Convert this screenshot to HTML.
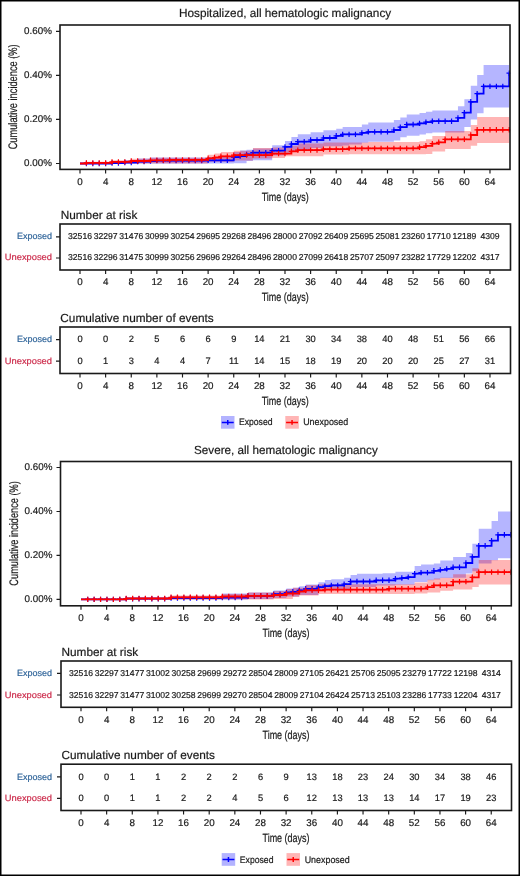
<!DOCTYPE html><html><head><meta charset="utf-8"><style>html,body{margin:0;padding:0;background:#fff;}svg{display:block;will-change:transform;}</style></head><body>
<svg width="520" height="876" viewBox="0 0 520 876" text-rendering="geometricPrecision" font-family='"Liberation Sans", sans-serif'>
<rect x="0" y="0" width="520" height="876" fill="#fff"/>
<rect x="0.75" y="0.75" width="518.5" height="874.5" fill="none" stroke="#000" stroke-width="1.5"/>
<text x="179.00" y="16.80" font-size="11.8" text-anchor="start" fill="#1a1a1a" stroke="#1a1a1a" stroke-width="0.2" textLength="212.2" lengthAdjust="spacingAndGlyphs" >Hospitalized, all hematologic malignancy</text>
<clipPath id="c1"><rect x="60" y="25" width="450.3" height="144.4"/></clipPath>
<g clip-path="url(#c1)">
<path d="M80.00,163.50 112.03,163.50 L112.03,161.00 124.84,161.00 L124.84,160.00 137.65,160.00 L137.65,158.60 150.47,158.60 L150.47,157.60 208.12,157.60 L208.12,157.00 233.74,157.00 L233.74,152.00 240.15,152.00 L240.15,150.50 246.56,150.50 L246.56,149.80 252.96,149.80 L252.96,148.60 272.18,148.60 L272.18,145.20 284.99,145.20 L284.99,141.10 291.40,141.10 L291.40,137.10 297.80,137.10 L297.80,134.20 310.62,134.20 L310.62,132.30 323.43,132.30 L323.43,130.30 336.24,130.30 L336.24,128.80 342.65,128.80 L342.65,126.90 361.86,126.90 L361.86,124.40 368.27,124.40 L368.27,122.60 393.89,122.60 L393.89,120.00 400.30,120.00 L400.30,117.40 406.71,117.40 L406.71,114.50 419.52,114.50 L419.52,113.00 425.92,113.00 L425.92,111.70 432.33,111.70 L432.33,110.40 457.95,110.40 L457.95,106.30 464.36,106.30 L464.36,99.30 470.77,99.30 L470.77,85.70 477.17,85.70 L477.17,75.10 483.58,75.10 L483.58,65.00 509.20,65.00 L509.20,107.60 483.58,107.60 L483.58,113.20 477.17,113.20 L477.17,119.40 470.77,119.40 L470.77,127.00 464.36,127.00 L464.36,132.60 432.33,132.60 L432.33,133.30 425.92,133.30 L425.92,134.60 419.52,134.60 L419.52,135.80 406.71,135.80 L406.71,137.30 400.30,137.30 L400.30,140.50 393.89,140.50 L393.89,141.80 368.27,141.80 L368.27,142.80 361.86,142.80 L361.86,144.50 349.05,144.50 L349.05,145.60 342.65,145.60 L342.65,146.20 323.43,146.20 L323.43,148.00 310.62,148.00 L310.62,150.30 297.80,150.30 L297.80,151.50 291.40,151.50 L291.40,152.70 284.99,152.70 L284.99,155.60 272.18,155.60 L272.18,160.30 252.96,160.30 L252.96,161.00 246.56,161.00 L246.56,163.20 233.74,163.20 L233.74,163.50 80.00,163.50 Z" fill="rgb(0,0,255)" fill-opacity="0.29" stroke="none"/>
<path d="M80.00,163.50 86.41,163.50 L86.41,161.80 112.03,161.80 L112.03,160.20 131.25,160.20 L131.25,158.80 150.47,158.80 L150.47,157.80 208.12,157.80 L208.12,154.80 214.53,154.80 L214.53,153.60 220.93,153.60 L220.93,151.90 233.74,151.90 L233.74,150.80 252.96,150.80 L252.96,148.00 272.18,148.00 L272.18,147.50 284.99,147.50 L284.99,145.80 297.80,145.80 L297.80,143.50 323.43,143.50 L323.43,142.40 368.27,142.40 L368.27,142.00 419.52,142.00 L419.52,141.30 425.92,141.30 L425.92,139.30 432.33,139.30 L432.33,136.00 445.14,136.00 L445.14,130.90 470.77,130.90 L470.77,125.00 477.17,125.00 L477.17,116.90 509.20,116.90 L509.20,143.00 477.17,143.00 L477.17,145.70 470.77,145.70 L470.77,149.00 445.14,149.00 L445.14,151.50 432.33,151.50 L432.33,154.00 425.92,154.00 L425.92,154.20 349.05,154.20 L349.05,154.60 323.43,154.60 L323.43,156.20 284.99,156.20 L284.99,157.90 272.18,157.90 L272.18,158.50 252.96,158.50 L252.96,160.60 233.74,160.60 L233.74,161.70 208.12,161.70 L208.12,163.50 80.00,163.50 Z" fill="rgb(255,0,0)" fill-opacity="0.29" stroke="none"/>
<path d="M80.00,163.50 L80.00,163.50 L112.03,163.50 L112.03,163.00 L124.84,163.00 L124.84,162.50 L137.65,162.50 L137.65,161.60 L150.47,161.60 L150.47,161.00 L156.87,161.00 L156.87,160.60 L208.12,160.60 L208.12,160.30 L233.74,160.30 L233.74,157.10 L240.15,157.10 L240.15,156.00 L246.56,156.00 L246.56,154.40 L252.96,154.40 L252.96,152.70 L272.18,152.70 L272.18,150.60 L284.99,150.60 L284.99,146.90 L291.40,146.90 L291.40,144.00 L297.80,144.00 L297.80,141.70 L310.62,141.70 L310.62,140.00 L323.43,140.00 L323.43,138.00 L336.24,138.00 L336.24,135.80 L342.65,135.80 L342.65,134.40 L361.86,134.40 L361.86,132.90 L368.27,132.90 L368.27,131.90 L393.89,131.90 L393.89,130.00 L400.30,130.00 L400.30,127.10 L406.71,127.10 L406.71,124.50 L419.52,124.50 L419.52,123.40 L425.92,123.40 L425.92,122.10 L432.33,122.10 L432.33,121.20 L457.95,121.20 L457.95,117.90 L464.36,117.90 L464.36,112.60 L470.77,112.60 L470.77,101.80 L477.17,101.80 L477.17,93.70 L483.58,93.70 L483.58,86.40 L509.20,86.40 L509.20,73.20 L509.20,73.20" stroke="#0000ff" stroke-width="1.8" fill="none" stroke-linejoin="miter"/>
<path d="M86.41,160.80V166.20M83.71,163.50H89.11M92.81,160.80V166.20M90.11,163.50H95.51M99.22,160.80V166.20M96.52,163.50H101.92M105.62,160.80V166.20M102.92,163.50H108.32M112.03,160.30V165.70M109.33,163.00H114.73M118.44,160.30V165.70M115.74,163.00H121.14M124.84,159.80V165.20M122.14,162.50H127.54M131.25,159.80V165.20M128.55,162.50H133.95M137.65,158.90V164.30M134.95,161.60H140.35M144.06,158.90V164.30M141.36,161.60H146.76M150.47,158.30V163.70M147.77,161.00H153.17M156.87,157.90V163.30M154.17,160.60H159.57M163.28,157.90V163.30M160.58,160.60H165.98M169.68,157.90V163.30M166.98,160.60H172.38M176.09,157.90V163.30M173.39,160.60H178.79M182.50,157.90V163.30M179.80,160.60H185.20M188.90,157.90V163.30M186.20,160.60H191.60M195.31,157.90V163.30M192.61,160.60H198.01M201.71,157.90V163.30M199.01,160.60H204.41M208.12,157.60V163.00M205.42,160.30H210.82M214.53,157.60V163.00M211.83,160.30H217.23M220.93,157.60V163.00M218.23,160.30H223.63M227.34,157.60V163.00M224.64,160.30H230.04M233.74,154.40V159.80M231.04,157.10H236.44M240.15,153.30V158.70M237.45,156.00H242.85M246.56,151.70V157.10M243.86,154.40H249.26M252.96,150.00V155.40M250.26,152.70H255.66M259.37,150.00V155.40M256.67,152.70H262.07M265.77,150.00V155.40M263.07,152.70H268.47M272.18,147.90V153.30M269.48,150.60H274.88M278.59,147.90V153.30M275.89,150.60H281.29M284.99,144.20V149.60M282.29,146.90H287.69M291.40,141.30V146.70M288.70,144.00H294.10M297.80,139.00V144.40M295.10,141.70H300.50M304.21,139.00V144.40M301.51,141.70H306.91M310.62,137.30V142.70M307.92,140.00H313.32M317.02,137.30V142.70M314.32,140.00H319.72M323.43,135.30V140.70M320.73,138.00H326.13M329.83,135.30V140.70M327.13,138.00H332.53M336.24,133.10V138.50M333.54,135.80H338.94M342.65,131.70V137.10M339.95,134.40H345.35M349.05,131.70V137.10M346.35,134.40H351.75M355.46,131.70V137.10M352.76,134.40H358.16M361.86,130.20V135.60M359.16,132.90H364.56M368.27,129.20V134.60M365.57,131.90H370.97M374.68,129.20V134.60M371.98,131.90H377.38M381.08,129.20V134.60M378.38,131.90H383.78M387.49,129.20V134.60M384.79,131.90H390.19M393.89,127.30V132.70M391.19,130.00H396.59M400.30,124.40V129.80M397.60,127.10H403.00M406.71,121.80V127.20M404.01,124.50H409.41M413.11,121.80V127.20M410.41,124.50H415.81M419.52,120.70V126.10M416.82,123.40H422.22M425.92,119.40V124.80M423.22,122.10H428.62M432.33,118.50V123.90M429.63,121.20H435.03M438.74,118.50V123.90M436.04,121.20H441.44M445.14,118.50V123.90M442.44,121.20H447.84M451.55,118.50V123.90M448.85,121.20H454.25M457.95,115.20V120.60M455.25,117.90H460.65M464.36,109.90V115.30M461.66,112.60H467.06M470.77,99.10V104.50M468.07,101.80H473.47M477.17,91.00V96.40M474.47,93.70H479.87M483.58,83.70V89.10M480.88,86.40H486.28M489.98,83.70V89.10M487.28,86.40H492.68M496.39,83.70V89.10M493.69,86.40H499.09M502.80,83.70V89.10M500.10,86.40H505.50M509.20,70.50V75.90M506.50,73.20H511.90" stroke="#0000ff" stroke-width="1.2" fill="none"/>
<path d="M80.00,163.50 L80.00,163.50 L86.41,163.50 L86.41,162.90 L112.03,162.90 L112.03,161.90 L131.25,161.90 L131.25,161.00 L150.47,161.00 L150.47,160.30 L169.68,160.30 L169.68,159.90 L208.12,159.90 L208.12,158.30 L214.53,158.30 L214.53,157.50 L220.93,157.50 L220.93,156.30 L233.74,156.30 L233.74,155.10 L272.18,155.10 L272.18,153.60 L291.40,153.60 L291.40,151.30 L297.80,151.30 L297.80,150.10 L323.43,150.10 L323.43,149.20 L349.05,149.20 L349.05,148.40 L419.52,148.40 L419.52,147.20 L425.92,147.20 L425.92,145.80 L432.33,145.80 L432.33,143.70 L438.74,143.70 L438.74,142.30 L445.14,142.30 L445.14,139.30 L470.77,139.30 L470.77,135.00 L477.17,135.00 L477.17,129.80 L509.20,129.80" stroke="#ff0000" stroke-width="1.8" fill="none" stroke-linejoin="miter"/>
<path d="M86.41,160.20V165.60M83.71,162.90H89.11M92.81,160.20V165.60M90.11,162.90H95.51M99.22,160.20V165.60M96.52,162.90H101.92M105.62,160.20V165.60M102.92,162.90H108.32M112.03,159.20V164.60M109.33,161.90H114.73M118.44,159.20V164.60M115.74,161.90H121.14M124.84,159.20V164.60M122.14,161.90H127.54M131.25,158.30V163.70M128.55,161.00H133.95M137.65,158.30V163.70M134.95,161.00H140.35M144.06,158.30V163.70M141.36,161.00H146.76M150.47,157.60V163.00M147.77,160.30H153.17M156.87,157.60V163.00M154.17,160.30H159.57M163.28,157.60V163.00M160.58,160.30H165.98M169.68,157.20V162.60M166.98,159.90H172.38M176.09,157.20V162.60M173.39,159.90H178.79M182.50,157.20V162.60M179.80,159.90H185.20M188.90,157.20V162.60M186.20,159.90H191.60M195.31,157.20V162.60M192.61,159.90H198.01M201.71,157.20V162.60M199.01,159.90H204.41M208.12,155.60V161.00M205.42,158.30H210.82M214.53,154.80V160.20M211.83,157.50H217.23M220.93,153.60V159.00M218.23,156.30H223.63M227.34,153.60V159.00M224.64,156.30H230.04M233.74,152.40V157.80M231.04,155.10H236.44M240.15,152.40V157.80M237.45,155.10H242.85M246.56,152.40V157.80M243.86,155.10H249.26M252.96,152.40V157.80M250.26,155.10H255.66M259.37,152.40V157.80M256.67,155.10H262.07M265.77,152.40V157.80M263.07,155.10H268.47M272.18,150.90V156.30M269.48,153.60H274.88M278.59,150.90V156.30M275.89,153.60H281.29M284.99,150.90V156.30M282.29,153.60H287.69M291.40,148.60V154.00M288.70,151.30H294.10M297.80,147.40V152.80M295.10,150.10H300.50M304.21,147.40V152.80M301.51,150.10H306.91M310.62,147.40V152.80M307.92,150.10H313.32M317.02,147.40V152.80M314.32,150.10H319.72M323.43,146.50V151.90M320.73,149.20H326.13M329.83,146.50V151.90M327.13,149.20H332.53M336.24,146.50V151.90M333.54,149.20H338.94M342.65,146.50V151.90M339.95,149.20H345.35M349.05,145.70V151.10M346.35,148.40H351.75M355.46,145.70V151.10M352.76,148.40H358.16M361.86,145.70V151.10M359.16,148.40H364.56M368.27,145.70V151.10M365.57,148.40H370.97M374.68,145.70V151.10M371.98,148.40H377.38M381.08,145.70V151.10M378.38,148.40H383.78M387.49,145.70V151.10M384.79,148.40H390.19M393.89,145.70V151.10M391.19,148.40H396.59M400.30,145.70V151.10M397.60,148.40H403.00M406.71,145.70V151.10M404.01,148.40H409.41M413.11,145.70V151.10M410.41,148.40H415.81M419.52,144.50V149.90M416.82,147.20H422.22M425.92,143.10V148.50M423.22,145.80H428.62M432.33,141.00V146.40M429.63,143.70H435.03M438.74,139.60V145.00M436.04,142.30H441.44M445.14,136.60V142.00M442.44,139.30H447.84M451.55,136.60V142.00M448.85,139.30H454.25M457.95,136.60V142.00M455.25,139.30H460.65M464.36,136.60V142.00M461.66,139.30H467.06M470.77,132.30V137.70M468.07,135.00H473.47M477.17,127.10V132.50M474.47,129.80H479.87M483.58,127.10V132.50M480.88,129.80H486.28M489.98,127.10V132.50M487.28,129.80H492.68M496.39,127.10V132.50M493.69,129.80H499.09M502.80,127.10V132.50M500.10,129.80H505.50M509.20,127.10V132.50M506.50,129.80H511.90" stroke="#ff0000" stroke-width="1.2" fill="none"/>
</g>
<rect x="60" y="25" width="450" height="144.4" fill="none" stroke="#1a1a1a" stroke-width="1.6"/>
<path d="M56.00,31.30H60.00M56.00,75.40H60.00M56.00,119.40H60.00M56.00,163.50H60.00" stroke="#1a1a1a" stroke-width="1.15"/>
<text x="51.90" y="34.00" font-size="9.8" text-anchor="end" fill="#1a1a1a" stroke="#1a1a1a" stroke-width="0.2" >0.60%</text>
<text x="51.90" y="78.10" font-size="9.8" text-anchor="end" fill="#1a1a1a" stroke="#1a1a1a" stroke-width="0.2" >0.40%</text>
<text x="51.90" y="122.10" font-size="9.8" text-anchor="end" fill="#1a1a1a" stroke="#1a1a1a" stroke-width="0.2" >0.20%</text>
<text x="51.90" y="166.20" font-size="9.8" text-anchor="end" fill="#1a1a1a" stroke="#1a1a1a" stroke-width="0.2" >0.00%</text>
<text transform="translate(16.90,96.85) rotate(-90)" x="0" y="0" font-size="12.3" text-anchor="middle" fill="#1a1a1a" stroke="#1a1a1a" stroke-width="0.2" textLength="105" lengthAdjust="spacingAndGlyphs">Cumulative incidence (%)</text>
<path d="M80.00,169.40V173.40M105.62,169.40V173.40M131.25,169.40V173.40M156.87,169.40V173.40M182.50,169.40V173.40M208.12,169.40V173.40M233.74,169.40V173.40M259.37,169.40V173.40M284.99,169.40V173.40M310.62,169.40V173.40M336.24,169.40V173.40M361.86,169.40V173.40M387.49,169.40V173.40M413.11,169.40V173.40M438.74,169.40V173.40M464.36,169.40V173.40M489.98,169.40V173.40" stroke="#1a1a1a" stroke-width="1.15"/>
<text x="80.00" y="184.70" font-size="9.8" text-anchor="middle" fill="#1a1a1a" stroke="#1a1a1a" stroke-width="0.2" >0</text>
<text x="105.62" y="184.70" font-size="9.8" text-anchor="middle" fill="#1a1a1a" stroke="#1a1a1a" stroke-width="0.2" >4</text>
<text x="131.25" y="184.70" font-size="9.8" text-anchor="middle" fill="#1a1a1a" stroke="#1a1a1a" stroke-width="0.2" >8</text>
<text x="156.87" y="184.70" font-size="9.8" text-anchor="middle" fill="#1a1a1a" stroke="#1a1a1a" stroke-width="0.2" >12</text>
<text x="182.50" y="184.70" font-size="9.8" text-anchor="middle" fill="#1a1a1a" stroke="#1a1a1a" stroke-width="0.2" >16</text>
<text x="208.12" y="184.70" font-size="9.8" text-anchor="middle" fill="#1a1a1a" stroke="#1a1a1a" stroke-width="0.2" >20</text>
<text x="233.74" y="184.70" font-size="9.8" text-anchor="middle" fill="#1a1a1a" stroke="#1a1a1a" stroke-width="0.2" >24</text>
<text x="259.37" y="184.70" font-size="9.8" text-anchor="middle" fill="#1a1a1a" stroke="#1a1a1a" stroke-width="0.2" >28</text>
<text x="284.99" y="184.70" font-size="9.8" text-anchor="middle" fill="#1a1a1a" stroke="#1a1a1a" stroke-width="0.2" >32</text>
<text x="310.62" y="184.70" font-size="9.8" text-anchor="middle" fill="#1a1a1a" stroke="#1a1a1a" stroke-width="0.2" >36</text>
<text x="336.24" y="184.70" font-size="9.8" text-anchor="middle" fill="#1a1a1a" stroke="#1a1a1a" stroke-width="0.2" >40</text>
<text x="361.86" y="184.70" font-size="9.8" text-anchor="middle" fill="#1a1a1a" stroke="#1a1a1a" stroke-width="0.2" >44</text>
<text x="387.49" y="184.70" font-size="9.8" text-anchor="middle" fill="#1a1a1a" stroke="#1a1a1a" stroke-width="0.2" >48</text>
<text x="413.11" y="184.70" font-size="9.8" text-anchor="middle" fill="#1a1a1a" stroke="#1a1a1a" stroke-width="0.2" >52</text>
<text x="438.74" y="184.70" font-size="9.8" text-anchor="middle" fill="#1a1a1a" stroke="#1a1a1a" stroke-width="0.2" >56</text>
<text x="464.36" y="184.70" font-size="9.8" text-anchor="middle" fill="#1a1a1a" stroke="#1a1a1a" stroke-width="0.2" >60</text>
<text x="489.98" y="184.70" font-size="9.8" text-anchor="middle" fill="#1a1a1a" stroke="#1a1a1a" stroke-width="0.2" >64</text>
<text x="285.20" y="201.20" font-size="11.9" text-anchor="middle" fill="#1a1a1a" stroke="#1a1a1a" stroke-width="0.2" textLength="47" lengthAdjust="spacingAndGlyphs" >Time (days)</text>
<text x="60.70" y="218.80" font-size="11.8" text-anchor="start" fill="#1a1a1a" stroke="#1a1a1a" stroke-width="0.2" >Number at risk</text>
<rect x="60" y="224" width="450.5" height="46" fill="none" stroke="#1a1a1a" stroke-width="1.6"/>
<path d="M56.00,236.80H60.00M56.00,258.00H60.00" stroke="#1a1a1a" stroke-width="1.15"/>
<text x="52.00" y="238.90" font-size="9.0" text-anchor="end" fill="#2f6499" stroke="#2f6499" stroke-width="0.2" textLength="35.1" lengthAdjust="spacingAndGlyphs" >Exposed</text>
<text x="80.00" y="238.90" font-size="8.6" text-anchor="middle" fill="#1a1a1a" stroke="#1a1a1a" stroke-width="0.2" >32516</text>
<text x="105.62" y="238.90" font-size="8.6" text-anchor="middle" fill="#1a1a1a" stroke="#1a1a1a" stroke-width="0.2" >32297</text>
<text x="131.25" y="238.90" font-size="8.6" text-anchor="middle" fill="#1a1a1a" stroke="#1a1a1a" stroke-width="0.2" >31476</text>
<text x="156.87" y="238.90" font-size="8.6" text-anchor="middle" fill="#1a1a1a" stroke="#1a1a1a" stroke-width="0.2" >30999</text>
<text x="182.50" y="238.90" font-size="8.6" text-anchor="middle" fill="#1a1a1a" stroke="#1a1a1a" stroke-width="0.2" >30254</text>
<text x="208.12" y="238.90" font-size="8.6" text-anchor="middle" fill="#1a1a1a" stroke="#1a1a1a" stroke-width="0.2" >29695</text>
<text x="233.74" y="238.90" font-size="8.6" text-anchor="middle" fill="#1a1a1a" stroke="#1a1a1a" stroke-width="0.2" >29268</text>
<text x="259.37" y="238.90" font-size="8.6" text-anchor="middle" fill="#1a1a1a" stroke="#1a1a1a" stroke-width="0.2" >28496</text>
<text x="284.99" y="238.90" font-size="8.6" text-anchor="middle" fill="#1a1a1a" stroke="#1a1a1a" stroke-width="0.2" >28000</text>
<text x="310.62" y="238.90" font-size="8.6" text-anchor="middle" fill="#1a1a1a" stroke="#1a1a1a" stroke-width="0.2" >27092</text>
<text x="336.24" y="238.90" font-size="8.6" text-anchor="middle" fill="#1a1a1a" stroke="#1a1a1a" stroke-width="0.2" >26409</text>
<text x="361.86" y="238.90" font-size="8.6" text-anchor="middle" fill="#1a1a1a" stroke="#1a1a1a" stroke-width="0.2" >25695</text>
<text x="387.49" y="238.90" font-size="8.6" text-anchor="middle" fill="#1a1a1a" stroke="#1a1a1a" stroke-width="0.2" >25081</text>
<text x="413.11" y="238.90" font-size="8.6" text-anchor="middle" fill="#1a1a1a" stroke="#1a1a1a" stroke-width="0.2" >23260</text>
<text x="438.74" y="238.90" font-size="8.6" text-anchor="middle" fill="#1a1a1a" stroke="#1a1a1a" stroke-width="0.2" >17710</text>
<text x="464.36" y="238.90" font-size="8.6" text-anchor="middle" fill="#1a1a1a" stroke="#1a1a1a" stroke-width="0.2" >12189</text>
<text x="489.98" y="238.90" font-size="8.6" text-anchor="middle" fill="#1a1a1a" stroke="#1a1a1a" stroke-width="0.2" >4309</text>
<text x="52.00" y="260.40" font-size="9.0" text-anchor="end" fill="#cc2b4b" stroke="#cc2b4b" stroke-width="0.2" textLength="47.2" lengthAdjust="spacingAndGlyphs" >Unexposed</text>
<text x="80.00" y="260.40" font-size="8.6" text-anchor="middle" fill="#1a1a1a" stroke="#1a1a1a" stroke-width="0.2" >32516</text>
<text x="105.62" y="260.40" font-size="8.6" text-anchor="middle" fill="#1a1a1a" stroke="#1a1a1a" stroke-width="0.2" >32296</text>
<text x="131.25" y="260.40" font-size="8.6" text-anchor="middle" fill="#1a1a1a" stroke="#1a1a1a" stroke-width="0.2" >31475</text>
<text x="156.87" y="260.40" font-size="8.6" text-anchor="middle" fill="#1a1a1a" stroke="#1a1a1a" stroke-width="0.2" >30999</text>
<text x="182.50" y="260.40" font-size="8.6" text-anchor="middle" fill="#1a1a1a" stroke="#1a1a1a" stroke-width="0.2" >30256</text>
<text x="208.12" y="260.40" font-size="8.6" text-anchor="middle" fill="#1a1a1a" stroke="#1a1a1a" stroke-width="0.2" >29696</text>
<text x="233.74" y="260.40" font-size="8.6" text-anchor="middle" fill="#1a1a1a" stroke="#1a1a1a" stroke-width="0.2" >29264</text>
<text x="259.37" y="260.40" font-size="8.6" text-anchor="middle" fill="#1a1a1a" stroke="#1a1a1a" stroke-width="0.2" >28496</text>
<text x="284.99" y="260.40" font-size="8.6" text-anchor="middle" fill="#1a1a1a" stroke="#1a1a1a" stroke-width="0.2" >28000</text>
<text x="310.62" y="260.40" font-size="8.6" text-anchor="middle" fill="#1a1a1a" stroke="#1a1a1a" stroke-width="0.2" >27099</text>
<text x="336.24" y="260.40" font-size="8.6" text-anchor="middle" fill="#1a1a1a" stroke="#1a1a1a" stroke-width="0.2" >26418</text>
<text x="361.86" y="260.40" font-size="8.6" text-anchor="middle" fill="#1a1a1a" stroke="#1a1a1a" stroke-width="0.2" >25707</text>
<text x="387.49" y="260.40" font-size="8.6" text-anchor="middle" fill="#1a1a1a" stroke="#1a1a1a" stroke-width="0.2" >25097</text>
<text x="413.11" y="260.40" font-size="8.6" text-anchor="middle" fill="#1a1a1a" stroke="#1a1a1a" stroke-width="0.2" >23282</text>
<text x="438.74" y="260.40" font-size="8.6" text-anchor="middle" fill="#1a1a1a" stroke="#1a1a1a" stroke-width="0.2" >17729</text>
<text x="464.36" y="260.40" font-size="8.6" text-anchor="middle" fill="#1a1a1a" stroke="#1a1a1a" stroke-width="0.2" >12202</text>
<text x="489.98" y="260.40" font-size="8.6" text-anchor="middle" fill="#1a1a1a" stroke="#1a1a1a" stroke-width="0.2" >4317</text>
<path d="M80.00,270.00V274.00M105.62,270.00V274.00M131.25,270.00V274.00M156.87,270.00V274.00M182.50,270.00V274.00M208.12,270.00V274.00M233.74,270.00V274.00M259.37,270.00V274.00M284.99,270.00V274.00M310.62,270.00V274.00M336.24,270.00V274.00M361.86,270.00V274.00M387.49,270.00V274.00M413.11,270.00V274.00M438.74,270.00V274.00M464.36,270.00V274.00M489.98,270.00V274.00" stroke="#1a1a1a" stroke-width="1.15"/>
<text x="80.00" y="284.90" font-size="9.8" text-anchor="middle" fill="#1a1a1a" stroke="#1a1a1a" stroke-width="0.2" >0</text>
<text x="105.62" y="284.90" font-size="9.8" text-anchor="middle" fill="#1a1a1a" stroke="#1a1a1a" stroke-width="0.2" >4</text>
<text x="131.25" y="284.90" font-size="9.8" text-anchor="middle" fill="#1a1a1a" stroke="#1a1a1a" stroke-width="0.2" >8</text>
<text x="156.87" y="284.90" font-size="9.8" text-anchor="middle" fill="#1a1a1a" stroke="#1a1a1a" stroke-width="0.2" >12</text>
<text x="182.50" y="284.90" font-size="9.8" text-anchor="middle" fill="#1a1a1a" stroke="#1a1a1a" stroke-width="0.2" >16</text>
<text x="208.12" y="284.90" font-size="9.8" text-anchor="middle" fill="#1a1a1a" stroke="#1a1a1a" stroke-width="0.2" >20</text>
<text x="233.74" y="284.90" font-size="9.8" text-anchor="middle" fill="#1a1a1a" stroke="#1a1a1a" stroke-width="0.2" >24</text>
<text x="259.37" y="284.90" font-size="9.8" text-anchor="middle" fill="#1a1a1a" stroke="#1a1a1a" stroke-width="0.2" >28</text>
<text x="284.99" y="284.90" font-size="9.8" text-anchor="middle" fill="#1a1a1a" stroke="#1a1a1a" stroke-width="0.2" >32</text>
<text x="310.62" y="284.90" font-size="9.8" text-anchor="middle" fill="#1a1a1a" stroke="#1a1a1a" stroke-width="0.2" >36</text>
<text x="336.24" y="284.90" font-size="9.8" text-anchor="middle" fill="#1a1a1a" stroke="#1a1a1a" stroke-width="0.2" >40</text>
<text x="361.86" y="284.90" font-size="9.8" text-anchor="middle" fill="#1a1a1a" stroke="#1a1a1a" stroke-width="0.2" >44</text>
<text x="387.49" y="284.90" font-size="9.8" text-anchor="middle" fill="#1a1a1a" stroke="#1a1a1a" stroke-width="0.2" >48</text>
<text x="413.11" y="284.90" font-size="9.8" text-anchor="middle" fill="#1a1a1a" stroke="#1a1a1a" stroke-width="0.2" >52</text>
<text x="438.74" y="284.90" font-size="9.8" text-anchor="middle" fill="#1a1a1a" stroke="#1a1a1a" stroke-width="0.2" >56</text>
<text x="464.36" y="284.90" font-size="9.8" text-anchor="middle" fill="#1a1a1a" stroke="#1a1a1a" stroke-width="0.2" >60</text>
<text x="489.98" y="284.90" font-size="9.8" text-anchor="middle" fill="#1a1a1a" stroke="#1a1a1a" stroke-width="0.2" >64</text>
<text x="285.20" y="301.20" font-size="11.9" text-anchor="middle" fill="#1a1a1a" stroke="#1a1a1a" stroke-width="0.2" textLength="47" lengthAdjust="spacingAndGlyphs" >Time (days)</text>
<text x="60.30" y="322.00" font-size="11.8" text-anchor="start" fill="#1a1a1a" stroke="#1a1a1a" stroke-width="0.2" >Cumulative number of events</text>
<rect x="60" y="327.0" width="450.5" height="46.5" fill="none" stroke="#1a1a1a" stroke-width="1.6"/>
<path d="M56.00,339.60H60.00M56.00,361.10H60.00" stroke="#1a1a1a" stroke-width="1.15"/>
<text x="52.00" y="341.90" font-size="9.0" text-anchor="end" fill="#2f6499" stroke="#2f6499" stroke-width="0.2" textLength="35.1" lengthAdjust="spacingAndGlyphs" >Exposed</text>
<text x="80.00" y="341.90" font-size="9.3" text-anchor="middle" fill="#1a1a1a" stroke="#1a1a1a" stroke-width="0.2" >0</text>
<text x="105.62" y="341.90" font-size="9.3" text-anchor="middle" fill="#1a1a1a" stroke="#1a1a1a" stroke-width="0.2" >0</text>
<text x="131.25" y="341.90" font-size="9.3" text-anchor="middle" fill="#1a1a1a" stroke="#1a1a1a" stroke-width="0.2" >2</text>
<text x="156.87" y="341.90" font-size="9.3" text-anchor="middle" fill="#1a1a1a" stroke="#1a1a1a" stroke-width="0.2" >5</text>
<text x="182.50" y="341.90" font-size="9.3" text-anchor="middle" fill="#1a1a1a" stroke="#1a1a1a" stroke-width="0.2" >6</text>
<text x="208.12" y="341.90" font-size="9.3" text-anchor="middle" fill="#1a1a1a" stroke="#1a1a1a" stroke-width="0.2" >6</text>
<text x="233.74" y="341.90" font-size="9.3" text-anchor="middle" fill="#1a1a1a" stroke="#1a1a1a" stroke-width="0.2" >9</text>
<text x="259.37" y="341.90" font-size="9.3" text-anchor="middle" fill="#1a1a1a" stroke="#1a1a1a" stroke-width="0.2" >14</text>
<text x="284.99" y="341.90" font-size="9.3" text-anchor="middle" fill="#1a1a1a" stroke="#1a1a1a" stroke-width="0.2" >21</text>
<text x="310.62" y="341.90" font-size="9.3" text-anchor="middle" fill="#1a1a1a" stroke="#1a1a1a" stroke-width="0.2" >30</text>
<text x="336.24" y="341.90" font-size="9.3" text-anchor="middle" fill="#1a1a1a" stroke="#1a1a1a" stroke-width="0.2" >34</text>
<text x="361.86" y="341.90" font-size="9.3" text-anchor="middle" fill="#1a1a1a" stroke="#1a1a1a" stroke-width="0.2" >38</text>
<text x="387.49" y="341.90" font-size="9.3" text-anchor="middle" fill="#1a1a1a" stroke="#1a1a1a" stroke-width="0.2" >40</text>
<text x="413.11" y="341.90" font-size="9.3" text-anchor="middle" fill="#1a1a1a" stroke="#1a1a1a" stroke-width="0.2" >48</text>
<text x="438.74" y="341.90" font-size="9.3" text-anchor="middle" fill="#1a1a1a" stroke="#1a1a1a" stroke-width="0.2" >51</text>
<text x="464.36" y="341.90" font-size="9.3" text-anchor="middle" fill="#1a1a1a" stroke="#1a1a1a" stroke-width="0.2" >56</text>
<text x="489.98" y="341.90" font-size="9.3" text-anchor="middle" fill="#1a1a1a" stroke="#1a1a1a" stroke-width="0.2" >66</text>
<text x="52.00" y="363.80" font-size="9.0" text-anchor="end" fill="#cc2b4b" stroke="#cc2b4b" stroke-width="0.2" textLength="47.2" lengthAdjust="spacingAndGlyphs" >Unexposed</text>
<text x="80.00" y="363.80" font-size="9.3" text-anchor="middle" fill="#1a1a1a" stroke="#1a1a1a" stroke-width="0.2" >0</text>
<text x="105.62" y="363.80" font-size="9.3" text-anchor="middle" fill="#1a1a1a" stroke="#1a1a1a" stroke-width="0.2" >1</text>
<text x="131.25" y="363.80" font-size="9.3" text-anchor="middle" fill="#1a1a1a" stroke="#1a1a1a" stroke-width="0.2" >3</text>
<text x="156.87" y="363.80" font-size="9.3" text-anchor="middle" fill="#1a1a1a" stroke="#1a1a1a" stroke-width="0.2" >4</text>
<text x="182.50" y="363.80" font-size="9.3" text-anchor="middle" fill="#1a1a1a" stroke="#1a1a1a" stroke-width="0.2" >4</text>
<text x="208.12" y="363.80" font-size="9.3" text-anchor="middle" fill="#1a1a1a" stroke="#1a1a1a" stroke-width="0.2" >7</text>
<text x="233.74" y="363.80" font-size="9.3" text-anchor="middle" fill="#1a1a1a" stroke="#1a1a1a" stroke-width="0.2" >11</text>
<text x="259.37" y="363.80" font-size="9.3" text-anchor="middle" fill="#1a1a1a" stroke="#1a1a1a" stroke-width="0.2" >14</text>
<text x="284.99" y="363.80" font-size="9.3" text-anchor="middle" fill="#1a1a1a" stroke="#1a1a1a" stroke-width="0.2" >15</text>
<text x="310.62" y="363.80" font-size="9.3" text-anchor="middle" fill="#1a1a1a" stroke="#1a1a1a" stroke-width="0.2" >18</text>
<text x="336.24" y="363.80" font-size="9.3" text-anchor="middle" fill="#1a1a1a" stroke="#1a1a1a" stroke-width="0.2" >19</text>
<text x="361.86" y="363.80" font-size="9.3" text-anchor="middle" fill="#1a1a1a" stroke="#1a1a1a" stroke-width="0.2" >20</text>
<text x="387.49" y="363.80" font-size="9.3" text-anchor="middle" fill="#1a1a1a" stroke="#1a1a1a" stroke-width="0.2" >20</text>
<text x="413.11" y="363.80" font-size="9.3" text-anchor="middle" fill="#1a1a1a" stroke="#1a1a1a" stroke-width="0.2" >20</text>
<text x="438.74" y="363.80" font-size="9.3" text-anchor="middle" fill="#1a1a1a" stroke="#1a1a1a" stroke-width="0.2" >25</text>
<text x="464.36" y="363.80" font-size="9.3" text-anchor="middle" fill="#1a1a1a" stroke="#1a1a1a" stroke-width="0.2" >27</text>
<text x="489.98" y="363.80" font-size="9.3" text-anchor="middle" fill="#1a1a1a" stroke="#1a1a1a" stroke-width="0.2" >31</text>
<path d="M80.00,373.50V377.50M105.62,373.50V377.50M131.25,373.50V377.50M156.87,373.50V377.50M182.50,373.50V377.50M208.12,373.50V377.50M233.74,373.50V377.50M259.37,373.50V377.50M284.99,373.50V377.50M310.62,373.50V377.50M336.24,373.50V377.50M361.86,373.50V377.50M387.49,373.50V377.50M413.11,373.50V377.50M438.74,373.50V377.50M464.36,373.50V377.50M489.98,373.50V377.50" stroke="#1a1a1a" stroke-width="1.15"/>
<text x="80.00" y="388.80" font-size="9.8" text-anchor="middle" fill="#1a1a1a" stroke="#1a1a1a" stroke-width="0.2" >0</text>
<text x="105.62" y="388.80" font-size="9.8" text-anchor="middle" fill="#1a1a1a" stroke="#1a1a1a" stroke-width="0.2" >4</text>
<text x="131.25" y="388.80" font-size="9.8" text-anchor="middle" fill="#1a1a1a" stroke="#1a1a1a" stroke-width="0.2" >8</text>
<text x="156.87" y="388.80" font-size="9.8" text-anchor="middle" fill="#1a1a1a" stroke="#1a1a1a" stroke-width="0.2" >12</text>
<text x="182.50" y="388.80" font-size="9.8" text-anchor="middle" fill="#1a1a1a" stroke="#1a1a1a" stroke-width="0.2" >16</text>
<text x="208.12" y="388.80" font-size="9.8" text-anchor="middle" fill="#1a1a1a" stroke="#1a1a1a" stroke-width="0.2" >20</text>
<text x="233.74" y="388.80" font-size="9.8" text-anchor="middle" fill="#1a1a1a" stroke="#1a1a1a" stroke-width="0.2" >24</text>
<text x="259.37" y="388.80" font-size="9.8" text-anchor="middle" fill="#1a1a1a" stroke="#1a1a1a" stroke-width="0.2" >28</text>
<text x="284.99" y="388.80" font-size="9.8" text-anchor="middle" fill="#1a1a1a" stroke="#1a1a1a" stroke-width="0.2" >32</text>
<text x="310.62" y="388.80" font-size="9.8" text-anchor="middle" fill="#1a1a1a" stroke="#1a1a1a" stroke-width="0.2" >36</text>
<text x="336.24" y="388.80" font-size="9.8" text-anchor="middle" fill="#1a1a1a" stroke="#1a1a1a" stroke-width="0.2" >40</text>
<text x="361.86" y="388.80" font-size="9.8" text-anchor="middle" fill="#1a1a1a" stroke="#1a1a1a" stroke-width="0.2" >44</text>
<text x="387.49" y="388.80" font-size="9.8" text-anchor="middle" fill="#1a1a1a" stroke="#1a1a1a" stroke-width="0.2" >48</text>
<text x="413.11" y="388.80" font-size="9.8" text-anchor="middle" fill="#1a1a1a" stroke="#1a1a1a" stroke-width="0.2" >52</text>
<text x="438.74" y="388.80" font-size="9.8" text-anchor="middle" fill="#1a1a1a" stroke="#1a1a1a" stroke-width="0.2" >56</text>
<text x="464.36" y="388.80" font-size="9.8" text-anchor="middle" fill="#1a1a1a" stroke="#1a1a1a" stroke-width="0.2" >60</text>
<text x="489.98" y="388.80" font-size="9.8" text-anchor="middle" fill="#1a1a1a" stroke="#1a1a1a" stroke-width="0.2" >64</text>
<text x="285.20" y="405.40" font-size="11.9" text-anchor="middle" fill="#1a1a1a" stroke="#1a1a1a" stroke-width="0.2" textLength="47" lengthAdjust="spacingAndGlyphs" >Time (days)</text>
<rect x="221" y="416" width="13.5" height="12.7" fill="rgb(179,179,255)"/>
<path d="M221.8,422.4H233.7M227.75,420V424.8" stroke="#0000ff" stroke-width="1.5"/>
<rect x="285.3" y="416" width="13.5" height="12.7" fill="rgb(255,181,181)"/>
<path d="M286.1,422.4H298.0M292.05,420V424.8" stroke="#ff0000" stroke-width="1.5"/>
<text x="238.90" y="425.30" font-size="9.6" text-anchor="start" fill="#1a1a1a" stroke="#1a1a1a" stroke-width="0.2" textLength="33.7" lengthAdjust="spacingAndGlyphs" >Exposed</text>
<text x="303.20" y="425.30" font-size="9.6" text-anchor="start" fill="#1a1a1a" stroke="#1a1a1a" stroke-width="0.2" textLength="45" lengthAdjust="spacingAndGlyphs" >Unexposed</text>
<text x="194.00" y="453.60" font-size="11.8" text-anchor="start" fill="#1a1a1a" stroke="#1a1a1a" stroke-width="0.2" textLength="183.8" lengthAdjust="spacingAndGlyphs" >Severe, all hematologic malignancy</text>
<clipPath id="c2"><rect x="60.5" y="461.5" width="450.9" height="144.29999999999995"/></clipPath>
<g clip-path="url(#c2)">
<path d="M81.00,599.40 126.19,599.40 L126.19,597.60 171.06,597.60 L171.06,596.20 222.34,596.20 L222.34,593.60 247.98,593.60 L247.98,592.40 273.62,592.40 L273.62,590.40 286.44,590.40 L286.44,588.50 292.85,588.50 L292.85,587.70 299.26,587.70 L299.26,586.20 305.67,586.20 L305.67,584.60 318.49,584.60 L318.49,582.30 324.90,582.30 L324.90,580.00 331.31,580.00 L331.31,579.20 344.13,579.20 L344.13,577.70 350.54,577.70 L350.54,574.90 356.95,574.90 L356.95,573.80 382.59,573.80 L382.59,573.20 395.41,573.20 L395.41,571.80 414.64,571.80 L414.64,566.00 421.05,566.00 L421.05,564.50 433.87,564.50 L433.87,563.40 440.28,563.40 L440.28,560.40 453.10,560.40 L453.10,556.90 465.92,556.90 L465.92,553.00 472.33,553.00 L472.33,543.80 478.74,543.80 L478.74,528.80 491.56,528.80 L491.56,520.90 497.97,520.90 L497.97,511.60 510.79,511.60 L510.79,558.30 497.97,558.30 L497.97,560.30 491.56,560.30 L491.56,563.60 478.74,563.60 L478.74,571.30 472.33,571.30 L472.33,573.60 465.92,573.60 L465.92,577.70 453.10,577.70 L453.10,578.00 440.28,578.00 L440.28,579.40 433.87,579.40 L433.87,580.30 427.46,580.30 L427.46,581.90 414.64,581.90 L414.64,584.80 395.41,584.80 L395.41,585.50 376.18,585.50 L376.18,586.90 350.54,586.90 L350.54,590.00 318.49,590.00 L318.49,595.00 299.26,595.00 L299.26,596.50 286.44,596.50 L286.44,598.00 273.62,598.00 L273.62,599.00 247.98,599.00 L247.98,599.40 81.00,599.40 Z" fill="rgb(0,0,255)" fill-opacity="0.29" stroke="none"/>
<path d="M81.00,599.40 126.19,599.40 L126.19,597.20 171.06,597.20 L171.06,595.60 222.34,595.60 L222.34,594.00 247.98,594.00 L247.98,592.50 273.62,592.50 L273.62,591.00 286.44,591.00 L286.44,589.00 292.85,589.00 L292.85,587.70 305.67,587.70 L305.67,585.10 318.49,585.10 L318.49,584.20 414.64,584.20 L414.64,582.60 427.46,582.60 L427.46,579.80 433.87,579.80 L433.87,578.50 440.28,578.50 L440.28,577.70 453.10,577.70 L453.10,574.20 472.33,574.20 L472.33,568.20 478.74,568.20 L478.74,560.00 510.79,560.00 L510.79,584.60 478.74,584.60 L478.74,587.00 472.33,587.00 L472.33,589.40 453.10,589.40 L453.10,590.70 440.28,590.70 L440.28,592.40 427.46,592.40 L427.46,593.40 414.64,593.40 L414.64,594.00 318.49,594.00 L318.49,595.40 299.26,595.40 L299.26,597.00 292.85,597.00 L292.85,599.00 273.62,599.00 L273.62,599.40 81.00,599.40 Z" fill="rgb(255,0,0)" fill-opacity="0.29" stroke="none"/>
<path d="M81.00,599.40 L81.00,599.40 L126.19,599.40 L126.19,598.70 L171.06,598.70 L171.06,598.00 L222.34,598.00 L222.34,597.50 L247.98,597.50 L247.98,596.00 L273.62,596.00 L273.62,594.20 L286.44,594.20 L286.44,592.50 L292.85,592.50 L292.85,591.80 L299.26,591.80 L299.26,590.30 L305.67,590.30 L305.67,588.80 L318.49,588.80 L318.49,587.20 L324.90,587.20 L324.90,586.20 L331.31,586.20 L331.31,585.40 L344.13,585.40 L344.13,584.20 L350.54,584.20 L350.54,581.50 L376.18,581.50 L376.18,580.30 L395.41,580.30 L395.41,578.70 L401.82,578.70 L401.82,578.00 L408.23,578.00 L408.23,577.10 L414.64,577.10 L414.64,573.70 L421.05,573.70 L421.05,572.60 L433.87,572.60 L433.87,570.80 L440.28,570.80 L440.28,569.90 L446.69,569.90 L446.69,568.90 L453.10,568.90 L453.10,567.30 L465.92,567.30 L465.92,563.00 L472.33,563.00 L472.33,556.90 L478.74,556.90 L478.74,545.80 L491.56,545.80 L491.56,540.70 L497.97,540.70 L497.97,534.80 L510.79,534.80" stroke="#0000ff" stroke-width="1.8" fill="none" stroke-linejoin="miter"/>
<path d="M87.73,596.70V602.10M85.03,599.40H90.43M94.14,596.70V602.10M91.44,599.40H96.84M100.55,596.70V602.10M97.85,599.40H103.25M106.96,596.70V602.10M104.26,599.40H109.66M113.37,596.70V602.10M110.67,599.40H116.07M119.78,596.70V602.10M117.08,599.40H122.48M126.19,596.00V601.40M123.49,598.70H128.89M132.60,596.00V601.40M129.90,598.70H135.30M139.01,596.00V601.40M136.31,598.70H141.71M145.42,596.00V601.40M142.72,598.70H148.12M151.83,596.00V601.40M149.13,598.70H154.53M158.24,596.00V601.40M155.54,598.70H160.94M164.65,596.00V601.40M161.95,598.70H167.35M171.06,595.30V600.70M168.36,598.00H173.76M177.47,595.30V600.70M174.77,598.00H180.17M183.88,595.30V600.70M181.18,598.00H186.58M190.29,595.30V600.70M187.59,598.00H192.99M196.70,595.30V600.70M194.00,598.00H199.40M203.11,595.30V600.70M200.41,598.00H205.81M209.52,595.30V600.70M206.82,598.00H212.22M215.93,595.30V600.70M213.23,598.00H218.63M222.34,594.80V600.20M219.64,597.50H225.04M228.75,594.80V600.20M226.05,597.50H231.45M235.16,594.80V600.20M232.46,597.50H237.86M241.57,594.80V600.20M238.87,597.50H244.27M247.98,593.30V598.70M245.28,596.00H250.68M254.39,593.30V598.70M251.69,596.00H257.09M260.80,593.30V598.70M258.10,596.00H263.50M267.21,593.30V598.70M264.51,596.00H269.91M273.62,591.50V596.90M270.92,594.20H276.32M280.03,591.50V596.90M277.33,594.20H282.73M286.44,589.80V595.20M283.74,592.50H289.14M292.85,589.10V594.50M290.15,591.80H295.55M299.26,587.60V593.00M296.56,590.30H301.96M305.67,586.10V591.50M302.97,588.80H308.37M312.08,586.10V591.50M309.38,588.80H314.78M318.49,584.50V589.90M315.79,587.20H321.19M324.90,583.50V588.90M322.20,586.20H327.60M331.31,582.70V588.10M328.61,585.40H334.01M337.72,582.70V588.10M335.02,585.40H340.42M344.13,581.50V586.90M341.43,584.20H346.83M350.54,578.80V584.20M347.84,581.50H353.24M356.95,578.80V584.20M354.25,581.50H359.65M363.36,578.80V584.20M360.66,581.50H366.06M369.77,578.80V584.20M367.07,581.50H372.47M376.18,577.60V583.00M373.48,580.30H378.88M382.59,577.60V583.00M379.89,580.30H385.29M389.00,577.60V583.00M386.30,580.30H391.70M395.41,576.00V581.40M392.71,578.70H398.11M401.82,575.30V580.70M399.12,578.00H404.52M408.23,574.40V579.80M405.53,577.10H410.93M414.64,571.00V576.40M411.94,573.70H417.34M421.05,569.90V575.30M418.35,572.60H423.75M427.46,569.90V575.30M424.76,572.60H430.16M433.87,568.10V573.50M431.17,570.80H436.57M440.28,567.20V572.60M437.58,569.90H442.98M446.69,566.20V571.60M443.99,568.90H449.39M453.10,564.60V570.00M450.40,567.30H455.80M459.51,564.60V570.00M456.81,567.30H462.21M465.92,560.30V565.70M463.22,563.00H468.62M472.33,554.20V559.60M469.63,556.90H475.03M478.74,543.10V548.50M476.04,545.80H481.44M485.15,543.10V548.50M482.45,545.80H487.85M491.56,538.00V543.40M488.86,540.70H494.26M497.97,532.10V537.50M495.27,534.80H500.67M504.38,532.10V537.50M501.68,534.80H507.08M510.79,532.10V537.50M508.09,534.80H513.49" stroke="#0000ff" stroke-width="1.2" fill="none"/>
<path d="M81.00,599.40 L81.00,599.40 L126.19,599.40 L126.19,598.50 L171.06,598.50 L171.06,597.30 L222.34,597.30 L222.34,596.50 L247.98,596.50 L247.98,595.80 L273.62,595.80 L273.62,595.00 L286.44,595.00 L286.44,593.50 L299.26,593.50 L299.26,591.50 L305.67,591.50 L305.67,590.30 L324.90,590.30 L324.90,589.70 L389.00,589.70 L389.00,588.70 L427.46,588.70 L427.46,587.20 L433.87,587.20 L433.87,585.30 L453.10,585.30 L453.10,581.60 L472.33,581.60 L472.33,577.30 L478.74,577.30 L478.74,572.10 L510.79,572.10" stroke="#ff0000" stroke-width="1.8" fill="none" stroke-linejoin="miter"/>
<path d="M87.73,596.70V602.10M85.03,599.40H90.43M94.14,596.70V602.10M91.44,599.40H96.84M100.55,596.70V602.10M97.85,599.40H103.25M106.96,596.70V602.10M104.26,599.40H109.66M113.37,596.70V602.10M110.67,599.40H116.07M119.78,596.70V602.10M117.08,599.40H122.48M126.19,595.80V601.20M123.49,598.50H128.89M132.60,595.80V601.20M129.90,598.50H135.30M139.01,595.80V601.20M136.31,598.50H141.71M145.42,595.80V601.20M142.72,598.50H148.12M151.83,595.80V601.20M149.13,598.50H154.53M158.24,595.80V601.20M155.54,598.50H160.94M164.65,595.80V601.20M161.95,598.50H167.35M171.06,594.60V600.00M168.36,597.30H173.76M177.47,594.60V600.00M174.77,597.30H180.17M183.88,594.60V600.00M181.18,597.30H186.58M190.29,594.60V600.00M187.59,597.30H192.99M196.70,594.60V600.00M194.00,597.30H199.40M203.11,594.60V600.00M200.41,597.30H205.81M209.52,594.60V600.00M206.82,597.30H212.22M215.93,594.60V600.00M213.23,597.30H218.63M222.34,593.80V599.20M219.64,596.50H225.04M228.75,593.80V599.20M226.05,596.50H231.45M235.16,593.80V599.20M232.46,596.50H237.86M241.57,593.80V599.20M238.87,596.50H244.27M247.98,593.10V598.50M245.28,595.80H250.68M254.39,593.10V598.50M251.69,595.80H257.09M260.80,593.10V598.50M258.10,595.80H263.50M267.21,593.10V598.50M264.51,595.80H269.91M273.62,592.30V597.70M270.92,595.00H276.32M280.03,592.30V597.70M277.33,595.00H282.73M286.44,590.80V596.20M283.74,593.50H289.14M292.85,590.80V596.20M290.15,593.50H295.55M299.26,588.80V594.20M296.56,591.50H301.96M305.67,587.60V593.00M302.97,590.30H308.37M312.08,587.60V593.00M309.38,590.30H314.78M318.49,587.60V593.00M315.79,590.30H321.19M324.90,587.00V592.40M322.20,589.70H327.60M331.31,587.00V592.40M328.61,589.70H334.01M337.72,587.00V592.40M335.02,589.70H340.42M344.13,587.00V592.40M341.43,589.70H346.83M350.54,587.00V592.40M347.84,589.70H353.24M356.95,587.00V592.40M354.25,589.70H359.65M363.36,587.00V592.40M360.66,589.70H366.06M369.77,587.00V592.40M367.07,589.70H372.47M376.18,587.00V592.40M373.48,589.70H378.88M382.59,587.00V592.40M379.89,589.70H385.29M389.00,586.00V591.40M386.30,588.70H391.70M395.41,586.00V591.40M392.71,588.70H398.11M401.82,586.00V591.40M399.12,588.70H404.52M408.23,586.00V591.40M405.53,588.70H410.93M414.64,586.00V591.40M411.94,588.70H417.34M421.05,586.00V591.40M418.35,588.70H423.75M427.46,584.50V589.90M424.76,587.20H430.16M433.87,582.60V588.00M431.17,585.30H436.57M440.28,582.60V588.00M437.58,585.30H442.98M446.69,582.60V588.00M443.99,585.30H449.39M453.10,578.90V584.30M450.40,581.60H455.80M459.51,578.90V584.30M456.81,581.60H462.21M465.92,578.90V584.30M463.22,581.60H468.62M472.33,574.60V580.00M469.63,577.30H475.03M478.74,569.40V574.80M476.04,572.10H481.44M485.15,569.40V574.80M482.45,572.10H487.85M491.56,569.40V574.80M488.86,572.10H494.26M497.97,569.40V574.80M495.27,572.10H500.67M504.38,569.40V574.80M501.68,572.10H507.08M510.79,569.40V574.80M508.09,572.10H513.49" stroke="#ff0000" stroke-width="1.2" fill="none"/>
</g>
<rect x="60.5" y="461.5" width="450.8" height="144.29999999999995" fill="none" stroke="#1a1a1a" stroke-width="1.6"/>
<path d="M56.50,467.50H60.50M56.50,511.50H60.50M56.50,555.40H60.50M56.50,599.40H60.50" stroke="#1a1a1a" stroke-width="1.15"/>
<text x="52.40" y="470.20" font-size="9.8" text-anchor="end" fill="#1a1a1a" stroke="#1a1a1a" stroke-width="0.2" >0.60%</text>
<text x="52.40" y="514.20" font-size="9.8" text-anchor="end" fill="#1a1a1a" stroke="#1a1a1a" stroke-width="0.2" >0.40%</text>
<text x="52.40" y="558.10" font-size="9.8" text-anchor="end" fill="#1a1a1a" stroke="#1a1a1a" stroke-width="0.2" >0.20%</text>
<text x="52.40" y="602.10" font-size="9.8" text-anchor="end" fill="#1a1a1a" stroke="#1a1a1a" stroke-width="0.2" >0.00%</text>
<text transform="translate(17.50,533.45) rotate(-90)" x="0" y="0" font-size="12.3" text-anchor="middle" fill="#1a1a1a" stroke="#1a1a1a" stroke-width="0.2" textLength="104.4" lengthAdjust="spacingAndGlyphs">Cumulative incidence (%)</text>
<path d="M81.00,605.80V609.80M106.64,605.80V609.80M132.28,605.80V609.80M157.92,605.80V609.80M183.56,605.80V609.80M209.20,605.80V609.80M234.84,605.80V609.80M260.48,605.80V609.80M286.12,605.80V609.80M311.76,605.80V609.80M337.40,605.80V609.80M363.04,605.80V609.80M388.68,605.80V609.80M414.32,605.80V609.80M439.96,605.80V609.80M465.60,605.80V609.80M491.24,605.80V609.80" stroke="#1a1a1a" stroke-width="1.15"/>
<text x="81.00" y="621.00" font-size="9.8" text-anchor="middle" fill="#1a1a1a" stroke="#1a1a1a" stroke-width="0.2" >0</text>
<text x="106.64" y="621.00" font-size="9.8" text-anchor="middle" fill="#1a1a1a" stroke="#1a1a1a" stroke-width="0.2" >4</text>
<text x="132.28" y="621.00" font-size="9.8" text-anchor="middle" fill="#1a1a1a" stroke="#1a1a1a" stroke-width="0.2" >8</text>
<text x="157.92" y="621.00" font-size="9.8" text-anchor="middle" fill="#1a1a1a" stroke="#1a1a1a" stroke-width="0.2" >12</text>
<text x="183.56" y="621.00" font-size="9.8" text-anchor="middle" fill="#1a1a1a" stroke="#1a1a1a" stroke-width="0.2" >16</text>
<text x="209.20" y="621.00" font-size="9.8" text-anchor="middle" fill="#1a1a1a" stroke="#1a1a1a" stroke-width="0.2" >20</text>
<text x="234.84" y="621.00" font-size="9.8" text-anchor="middle" fill="#1a1a1a" stroke="#1a1a1a" stroke-width="0.2" >24</text>
<text x="260.48" y="621.00" font-size="9.8" text-anchor="middle" fill="#1a1a1a" stroke="#1a1a1a" stroke-width="0.2" >28</text>
<text x="286.12" y="621.00" font-size="9.8" text-anchor="middle" fill="#1a1a1a" stroke="#1a1a1a" stroke-width="0.2" >32</text>
<text x="311.76" y="621.00" font-size="9.8" text-anchor="middle" fill="#1a1a1a" stroke="#1a1a1a" stroke-width="0.2" >36</text>
<text x="337.40" y="621.00" font-size="9.8" text-anchor="middle" fill="#1a1a1a" stroke="#1a1a1a" stroke-width="0.2" >40</text>
<text x="363.04" y="621.00" font-size="9.8" text-anchor="middle" fill="#1a1a1a" stroke="#1a1a1a" stroke-width="0.2" >44</text>
<text x="388.68" y="621.00" font-size="9.8" text-anchor="middle" fill="#1a1a1a" stroke="#1a1a1a" stroke-width="0.2" >48</text>
<text x="414.32" y="621.00" font-size="9.8" text-anchor="middle" fill="#1a1a1a" stroke="#1a1a1a" stroke-width="0.2" >52</text>
<text x="439.96" y="621.00" font-size="9.8" text-anchor="middle" fill="#1a1a1a" stroke="#1a1a1a" stroke-width="0.2" >56</text>
<text x="465.60" y="621.00" font-size="9.8" text-anchor="middle" fill="#1a1a1a" stroke="#1a1a1a" stroke-width="0.2" >60</text>
<text x="491.24" y="621.00" font-size="9.8" text-anchor="middle" fill="#1a1a1a" stroke="#1a1a1a" stroke-width="0.2" >64</text>
<text x="286.00" y="636.50" font-size="11.9" text-anchor="middle" fill="#1a1a1a" stroke="#1a1a1a" stroke-width="0.2" textLength="47" lengthAdjust="spacingAndGlyphs" >Time (days)</text>
<text x="61.50" y="655.80" font-size="11.8" text-anchor="start" fill="#1a1a1a" stroke="#1a1a1a" stroke-width="0.2" >Number at risk</text>
<rect x="61" y="661" width="450.5" height="46.299999999999955" fill="none" stroke="#1a1a1a" stroke-width="1.6"/>
<path d="M57.00,673.30H61.00M57.00,695.00H61.00" stroke="#1a1a1a" stroke-width="1.15"/>
<text x="52.00" y="676.30" font-size="9.0" text-anchor="end" fill="#2f6499" stroke="#2f6499" stroke-width="0.2" textLength="35.1" lengthAdjust="spacingAndGlyphs" >Exposed</text>
<text x="81.00" y="676.30" font-size="8.6" text-anchor="middle" fill="#1a1a1a" stroke="#1a1a1a" stroke-width="0.2" >32516</text>
<text x="106.64" y="676.30" font-size="8.6" text-anchor="middle" fill="#1a1a1a" stroke="#1a1a1a" stroke-width="0.2" >32297</text>
<text x="132.28" y="676.30" font-size="8.6" text-anchor="middle" fill="#1a1a1a" stroke="#1a1a1a" stroke-width="0.2" >31477</text>
<text x="157.92" y="676.30" font-size="8.6" text-anchor="middle" fill="#1a1a1a" stroke="#1a1a1a" stroke-width="0.2" >31002</text>
<text x="183.56" y="676.30" font-size="8.6" text-anchor="middle" fill="#1a1a1a" stroke="#1a1a1a" stroke-width="0.2" >30258</text>
<text x="209.20" y="676.30" font-size="8.6" text-anchor="middle" fill="#1a1a1a" stroke="#1a1a1a" stroke-width="0.2" >29699</text>
<text x="234.84" y="676.30" font-size="8.6" text-anchor="middle" fill="#1a1a1a" stroke="#1a1a1a" stroke-width="0.2" >29272</text>
<text x="260.48" y="676.30" font-size="8.6" text-anchor="middle" fill="#1a1a1a" stroke="#1a1a1a" stroke-width="0.2" >28504</text>
<text x="286.12" y="676.30" font-size="8.6" text-anchor="middle" fill="#1a1a1a" stroke="#1a1a1a" stroke-width="0.2" >28009</text>
<text x="311.76" y="676.30" font-size="8.6" text-anchor="middle" fill="#1a1a1a" stroke="#1a1a1a" stroke-width="0.2" >27105</text>
<text x="337.40" y="676.30" font-size="8.6" text-anchor="middle" fill="#1a1a1a" stroke="#1a1a1a" stroke-width="0.2" >26421</text>
<text x="363.04" y="676.30" font-size="8.6" text-anchor="middle" fill="#1a1a1a" stroke="#1a1a1a" stroke-width="0.2" >25706</text>
<text x="388.68" y="676.30" font-size="8.6" text-anchor="middle" fill="#1a1a1a" stroke="#1a1a1a" stroke-width="0.2" >25095</text>
<text x="414.32" y="676.30" font-size="8.6" text-anchor="middle" fill="#1a1a1a" stroke="#1a1a1a" stroke-width="0.2" >23279</text>
<text x="439.96" y="676.30" font-size="8.6" text-anchor="middle" fill="#1a1a1a" stroke="#1a1a1a" stroke-width="0.2" >17722</text>
<text x="465.60" y="676.30" font-size="8.6" text-anchor="middle" fill="#1a1a1a" stroke="#1a1a1a" stroke-width="0.2" >12198</text>
<text x="491.24" y="676.30" font-size="8.6" text-anchor="middle" fill="#1a1a1a" stroke="#1a1a1a" stroke-width="0.2" >4314</text>
<text x="52.00" y="697.80" font-size="9.0" text-anchor="end" fill="#cc2b4b" stroke="#cc2b4b" stroke-width="0.2" textLength="47.2" lengthAdjust="spacingAndGlyphs" >Unexposed</text>
<text x="81.00" y="697.80" font-size="8.6" text-anchor="middle" fill="#1a1a1a" stroke="#1a1a1a" stroke-width="0.2" >32516</text>
<text x="106.64" y="697.80" font-size="8.6" text-anchor="middle" fill="#1a1a1a" stroke="#1a1a1a" stroke-width="0.2" >32297</text>
<text x="132.28" y="697.80" font-size="8.6" text-anchor="middle" fill="#1a1a1a" stroke="#1a1a1a" stroke-width="0.2" >31477</text>
<text x="157.92" y="697.80" font-size="8.6" text-anchor="middle" fill="#1a1a1a" stroke="#1a1a1a" stroke-width="0.2" >31002</text>
<text x="183.56" y="697.80" font-size="8.6" text-anchor="middle" fill="#1a1a1a" stroke="#1a1a1a" stroke-width="0.2" >30258</text>
<text x="209.20" y="697.80" font-size="8.6" text-anchor="middle" fill="#1a1a1a" stroke="#1a1a1a" stroke-width="0.2" >29699</text>
<text x="234.84" y="697.80" font-size="8.6" text-anchor="middle" fill="#1a1a1a" stroke="#1a1a1a" stroke-width="0.2" >29270</text>
<text x="260.48" y="697.80" font-size="8.6" text-anchor="middle" fill="#1a1a1a" stroke="#1a1a1a" stroke-width="0.2" >28504</text>
<text x="286.12" y="697.80" font-size="8.6" text-anchor="middle" fill="#1a1a1a" stroke="#1a1a1a" stroke-width="0.2" >28009</text>
<text x="311.76" y="697.80" font-size="8.6" text-anchor="middle" fill="#1a1a1a" stroke="#1a1a1a" stroke-width="0.2" >27104</text>
<text x="337.40" y="697.80" font-size="8.6" text-anchor="middle" fill="#1a1a1a" stroke="#1a1a1a" stroke-width="0.2" >26424</text>
<text x="363.04" y="697.80" font-size="8.6" text-anchor="middle" fill="#1a1a1a" stroke="#1a1a1a" stroke-width="0.2" >25713</text>
<text x="388.68" y="697.80" font-size="8.6" text-anchor="middle" fill="#1a1a1a" stroke="#1a1a1a" stroke-width="0.2" >25103</text>
<text x="414.32" y="697.80" font-size="8.6" text-anchor="middle" fill="#1a1a1a" stroke="#1a1a1a" stroke-width="0.2" >23286</text>
<text x="439.96" y="697.80" font-size="8.6" text-anchor="middle" fill="#1a1a1a" stroke="#1a1a1a" stroke-width="0.2" >17733</text>
<text x="465.60" y="697.80" font-size="8.6" text-anchor="middle" fill="#1a1a1a" stroke="#1a1a1a" stroke-width="0.2" >12204</text>
<text x="491.24" y="697.80" font-size="8.6" text-anchor="middle" fill="#1a1a1a" stroke="#1a1a1a" stroke-width="0.2" >4317</text>
<path d="M81.00,707.30V711.30M106.64,707.30V711.30M132.28,707.30V711.30M157.92,707.30V711.30M183.56,707.30V711.30M209.20,707.30V711.30M234.84,707.30V711.30M260.48,707.30V711.30M286.12,707.30V711.30M311.76,707.30V711.30M337.40,707.30V711.30M363.04,707.30V711.30M388.68,707.30V711.30M414.32,707.30V711.30M439.96,707.30V711.30M465.60,707.30V711.30M491.24,707.30V711.30" stroke="#1a1a1a" stroke-width="1.15"/>
<text x="81.00" y="723.10" font-size="9.8" text-anchor="middle" fill="#1a1a1a" stroke="#1a1a1a" stroke-width="0.2" >0</text>
<text x="106.64" y="723.10" font-size="9.8" text-anchor="middle" fill="#1a1a1a" stroke="#1a1a1a" stroke-width="0.2" >4</text>
<text x="132.28" y="723.10" font-size="9.8" text-anchor="middle" fill="#1a1a1a" stroke="#1a1a1a" stroke-width="0.2" >8</text>
<text x="157.92" y="723.10" font-size="9.8" text-anchor="middle" fill="#1a1a1a" stroke="#1a1a1a" stroke-width="0.2" >12</text>
<text x="183.56" y="723.10" font-size="9.8" text-anchor="middle" fill="#1a1a1a" stroke="#1a1a1a" stroke-width="0.2" >16</text>
<text x="209.20" y="723.10" font-size="9.8" text-anchor="middle" fill="#1a1a1a" stroke="#1a1a1a" stroke-width="0.2" >20</text>
<text x="234.84" y="723.10" font-size="9.8" text-anchor="middle" fill="#1a1a1a" stroke="#1a1a1a" stroke-width="0.2" >24</text>
<text x="260.48" y="723.10" font-size="9.8" text-anchor="middle" fill="#1a1a1a" stroke="#1a1a1a" stroke-width="0.2" >28</text>
<text x="286.12" y="723.10" font-size="9.8" text-anchor="middle" fill="#1a1a1a" stroke="#1a1a1a" stroke-width="0.2" >32</text>
<text x="311.76" y="723.10" font-size="9.8" text-anchor="middle" fill="#1a1a1a" stroke="#1a1a1a" stroke-width="0.2" >36</text>
<text x="337.40" y="723.10" font-size="9.8" text-anchor="middle" fill="#1a1a1a" stroke="#1a1a1a" stroke-width="0.2" >40</text>
<text x="363.04" y="723.10" font-size="9.8" text-anchor="middle" fill="#1a1a1a" stroke="#1a1a1a" stroke-width="0.2" >44</text>
<text x="388.68" y="723.10" font-size="9.8" text-anchor="middle" fill="#1a1a1a" stroke="#1a1a1a" stroke-width="0.2" >48</text>
<text x="414.32" y="723.10" font-size="9.8" text-anchor="middle" fill="#1a1a1a" stroke="#1a1a1a" stroke-width="0.2" >52</text>
<text x="439.96" y="723.10" font-size="9.8" text-anchor="middle" fill="#1a1a1a" stroke="#1a1a1a" stroke-width="0.2" >56</text>
<text x="465.60" y="723.10" font-size="9.8" text-anchor="middle" fill="#1a1a1a" stroke="#1a1a1a" stroke-width="0.2" >60</text>
<text x="491.24" y="723.10" font-size="9.8" text-anchor="middle" fill="#1a1a1a" stroke="#1a1a1a" stroke-width="0.2" >64</text>
<text x="286.00" y="738.60" font-size="11.9" text-anchor="middle" fill="#1a1a1a" stroke="#1a1a1a" stroke-width="0.2" textLength="47" lengthAdjust="spacingAndGlyphs" >Time (days)</text>
<text x="61.50" y="759.30" font-size="11.8" text-anchor="start" fill="#1a1a1a" stroke="#1a1a1a" stroke-width="0.2" >Cumulative number of events</text>
<rect x="61" y="764.2" width="450.5" height="46.299999999999955" fill="none" stroke="#1a1a1a" stroke-width="1.6"/>
<path d="M57.00,776.80H61.00M57.00,798.30H61.00" stroke="#1a1a1a" stroke-width="1.15"/>
<text x="52.00" y="779.50" font-size="9.0" text-anchor="end" fill="#2f6499" stroke="#2f6499" stroke-width="0.2" textLength="35.1" lengthAdjust="spacingAndGlyphs" >Exposed</text>
<text x="81.00" y="779.50" font-size="9.3" text-anchor="middle" fill="#1a1a1a" stroke="#1a1a1a" stroke-width="0.2" >0</text>
<text x="106.64" y="779.50" font-size="9.3" text-anchor="middle" fill="#1a1a1a" stroke="#1a1a1a" stroke-width="0.2" >0</text>
<text x="132.28" y="779.50" font-size="9.3" text-anchor="middle" fill="#1a1a1a" stroke="#1a1a1a" stroke-width="0.2" >1</text>
<text x="157.92" y="779.50" font-size="9.3" text-anchor="middle" fill="#1a1a1a" stroke="#1a1a1a" stroke-width="0.2" >1</text>
<text x="183.56" y="779.50" font-size="9.3" text-anchor="middle" fill="#1a1a1a" stroke="#1a1a1a" stroke-width="0.2" >2</text>
<text x="209.20" y="779.50" font-size="9.3" text-anchor="middle" fill="#1a1a1a" stroke="#1a1a1a" stroke-width="0.2" >2</text>
<text x="234.84" y="779.50" font-size="9.3" text-anchor="middle" fill="#1a1a1a" stroke="#1a1a1a" stroke-width="0.2" >2</text>
<text x="260.48" y="779.50" font-size="9.3" text-anchor="middle" fill="#1a1a1a" stroke="#1a1a1a" stroke-width="0.2" >6</text>
<text x="286.12" y="779.50" font-size="9.3" text-anchor="middle" fill="#1a1a1a" stroke="#1a1a1a" stroke-width="0.2" >9</text>
<text x="311.76" y="779.50" font-size="9.3" text-anchor="middle" fill="#1a1a1a" stroke="#1a1a1a" stroke-width="0.2" >13</text>
<text x="337.40" y="779.50" font-size="9.3" text-anchor="middle" fill="#1a1a1a" stroke="#1a1a1a" stroke-width="0.2" >18</text>
<text x="363.04" y="779.50" font-size="9.3" text-anchor="middle" fill="#1a1a1a" stroke="#1a1a1a" stroke-width="0.2" >23</text>
<text x="388.68" y="779.50" font-size="9.3" text-anchor="middle" fill="#1a1a1a" stroke="#1a1a1a" stroke-width="0.2" >24</text>
<text x="414.32" y="779.50" font-size="9.3" text-anchor="middle" fill="#1a1a1a" stroke="#1a1a1a" stroke-width="0.2" >30</text>
<text x="439.96" y="779.50" font-size="9.3" text-anchor="middle" fill="#1a1a1a" stroke="#1a1a1a" stroke-width="0.2" >34</text>
<text x="465.60" y="779.50" font-size="9.3" text-anchor="middle" fill="#1a1a1a" stroke="#1a1a1a" stroke-width="0.2" >38</text>
<text x="491.24" y="779.50" font-size="9.3" text-anchor="middle" fill="#1a1a1a" stroke="#1a1a1a" stroke-width="0.2" >46</text>
<text x="52.00" y="801.30" font-size="9.0" text-anchor="end" fill="#cc2b4b" stroke="#cc2b4b" stroke-width="0.2" textLength="47.2" lengthAdjust="spacingAndGlyphs" >Unexposed</text>
<text x="81.00" y="801.30" font-size="9.3" text-anchor="middle" fill="#1a1a1a" stroke="#1a1a1a" stroke-width="0.2" >0</text>
<text x="106.64" y="801.30" font-size="9.3" text-anchor="middle" fill="#1a1a1a" stroke="#1a1a1a" stroke-width="0.2" >0</text>
<text x="132.28" y="801.30" font-size="9.3" text-anchor="middle" fill="#1a1a1a" stroke="#1a1a1a" stroke-width="0.2" >1</text>
<text x="157.92" y="801.30" font-size="9.3" text-anchor="middle" fill="#1a1a1a" stroke="#1a1a1a" stroke-width="0.2" >1</text>
<text x="183.56" y="801.30" font-size="9.3" text-anchor="middle" fill="#1a1a1a" stroke="#1a1a1a" stroke-width="0.2" >2</text>
<text x="209.20" y="801.30" font-size="9.3" text-anchor="middle" fill="#1a1a1a" stroke="#1a1a1a" stroke-width="0.2" >2</text>
<text x="234.84" y="801.30" font-size="9.3" text-anchor="middle" fill="#1a1a1a" stroke="#1a1a1a" stroke-width="0.2" >4</text>
<text x="260.48" y="801.30" font-size="9.3" text-anchor="middle" fill="#1a1a1a" stroke="#1a1a1a" stroke-width="0.2" >5</text>
<text x="286.12" y="801.30" font-size="9.3" text-anchor="middle" fill="#1a1a1a" stroke="#1a1a1a" stroke-width="0.2" >6</text>
<text x="311.76" y="801.30" font-size="9.3" text-anchor="middle" fill="#1a1a1a" stroke="#1a1a1a" stroke-width="0.2" >12</text>
<text x="337.40" y="801.30" font-size="9.3" text-anchor="middle" fill="#1a1a1a" stroke="#1a1a1a" stroke-width="0.2" >13</text>
<text x="363.04" y="801.30" font-size="9.3" text-anchor="middle" fill="#1a1a1a" stroke="#1a1a1a" stroke-width="0.2" >13</text>
<text x="388.68" y="801.30" font-size="9.3" text-anchor="middle" fill="#1a1a1a" stroke="#1a1a1a" stroke-width="0.2" >13</text>
<text x="414.32" y="801.30" font-size="9.3" text-anchor="middle" fill="#1a1a1a" stroke="#1a1a1a" stroke-width="0.2" >14</text>
<text x="439.96" y="801.30" font-size="9.3" text-anchor="middle" fill="#1a1a1a" stroke="#1a1a1a" stroke-width="0.2" >17</text>
<text x="465.60" y="801.30" font-size="9.3" text-anchor="middle" fill="#1a1a1a" stroke="#1a1a1a" stroke-width="0.2" >19</text>
<text x="491.24" y="801.30" font-size="9.3" text-anchor="middle" fill="#1a1a1a" stroke="#1a1a1a" stroke-width="0.2" >23</text>
<path d="M81.00,810.50V814.50M106.64,810.50V814.50M132.28,810.50V814.50M157.92,810.50V814.50M183.56,810.50V814.50M209.20,810.50V814.50M234.84,810.50V814.50M260.48,810.50V814.50M286.12,810.50V814.50M311.76,810.50V814.50M337.40,810.50V814.50M363.04,810.50V814.50M388.68,810.50V814.50M414.32,810.50V814.50M439.96,810.50V814.50M465.60,810.50V814.50M491.24,810.50V814.50" stroke="#1a1a1a" stroke-width="1.15"/>
<text x="81.00" y="825.70" font-size="9.8" text-anchor="middle" fill="#1a1a1a" stroke="#1a1a1a" stroke-width="0.2" >0</text>
<text x="106.64" y="825.70" font-size="9.8" text-anchor="middle" fill="#1a1a1a" stroke="#1a1a1a" stroke-width="0.2" >4</text>
<text x="132.28" y="825.70" font-size="9.8" text-anchor="middle" fill="#1a1a1a" stroke="#1a1a1a" stroke-width="0.2" >8</text>
<text x="157.92" y="825.70" font-size="9.8" text-anchor="middle" fill="#1a1a1a" stroke="#1a1a1a" stroke-width="0.2" >12</text>
<text x="183.56" y="825.70" font-size="9.8" text-anchor="middle" fill="#1a1a1a" stroke="#1a1a1a" stroke-width="0.2" >16</text>
<text x="209.20" y="825.70" font-size="9.8" text-anchor="middle" fill="#1a1a1a" stroke="#1a1a1a" stroke-width="0.2" >20</text>
<text x="234.84" y="825.70" font-size="9.8" text-anchor="middle" fill="#1a1a1a" stroke="#1a1a1a" stroke-width="0.2" >24</text>
<text x="260.48" y="825.70" font-size="9.8" text-anchor="middle" fill="#1a1a1a" stroke="#1a1a1a" stroke-width="0.2" >28</text>
<text x="286.12" y="825.70" font-size="9.8" text-anchor="middle" fill="#1a1a1a" stroke="#1a1a1a" stroke-width="0.2" >32</text>
<text x="311.76" y="825.70" font-size="9.8" text-anchor="middle" fill="#1a1a1a" stroke="#1a1a1a" stroke-width="0.2" >36</text>
<text x="337.40" y="825.70" font-size="9.8" text-anchor="middle" fill="#1a1a1a" stroke="#1a1a1a" stroke-width="0.2" >40</text>
<text x="363.04" y="825.70" font-size="9.8" text-anchor="middle" fill="#1a1a1a" stroke="#1a1a1a" stroke-width="0.2" >44</text>
<text x="388.68" y="825.70" font-size="9.8" text-anchor="middle" fill="#1a1a1a" stroke="#1a1a1a" stroke-width="0.2" >48</text>
<text x="414.32" y="825.70" font-size="9.8" text-anchor="middle" fill="#1a1a1a" stroke="#1a1a1a" stroke-width="0.2" >52</text>
<text x="439.96" y="825.70" font-size="9.8" text-anchor="middle" fill="#1a1a1a" stroke="#1a1a1a" stroke-width="0.2" >56</text>
<text x="465.60" y="825.70" font-size="9.8" text-anchor="middle" fill="#1a1a1a" stroke="#1a1a1a" stroke-width="0.2" >60</text>
<text x="491.24" y="825.70" font-size="9.8" text-anchor="middle" fill="#1a1a1a" stroke="#1a1a1a" stroke-width="0.2" >64</text>
<text x="286.00" y="841.90" font-size="11.9" text-anchor="middle" fill="#1a1a1a" stroke="#1a1a1a" stroke-width="0.2" textLength="47" lengthAdjust="spacingAndGlyphs" >Time (days)</text>
<rect x="221.7" y="853.1" width="13.5" height="12.7" fill="rgb(179,179,255)"/>
<path d="M222.5,859.5H234.39999999999998M228.45,857.1V861.9" stroke="#0000ff" stroke-width="1.5"/>
<rect x="286.5" y="853.1" width="13.5" height="12.7" fill="rgb(255,181,181)"/>
<path d="M287.3,859.5H299.2M293.25,857.1V861.9" stroke="#ff0000" stroke-width="1.5"/>
<text x="239.80" y="862.50" font-size="9.6" text-anchor="start" fill="#1a1a1a" stroke="#1a1a1a" stroke-width="0.2" textLength="33.7" lengthAdjust="spacingAndGlyphs" >Exposed</text>
<text x="304.70" y="862.50" font-size="9.6" text-anchor="start" fill="#1a1a1a" stroke="#1a1a1a" stroke-width="0.2" textLength="45" lengthAdjust="spacingAndGlyphs" >Unexposed</text>
</svg></body></html>
